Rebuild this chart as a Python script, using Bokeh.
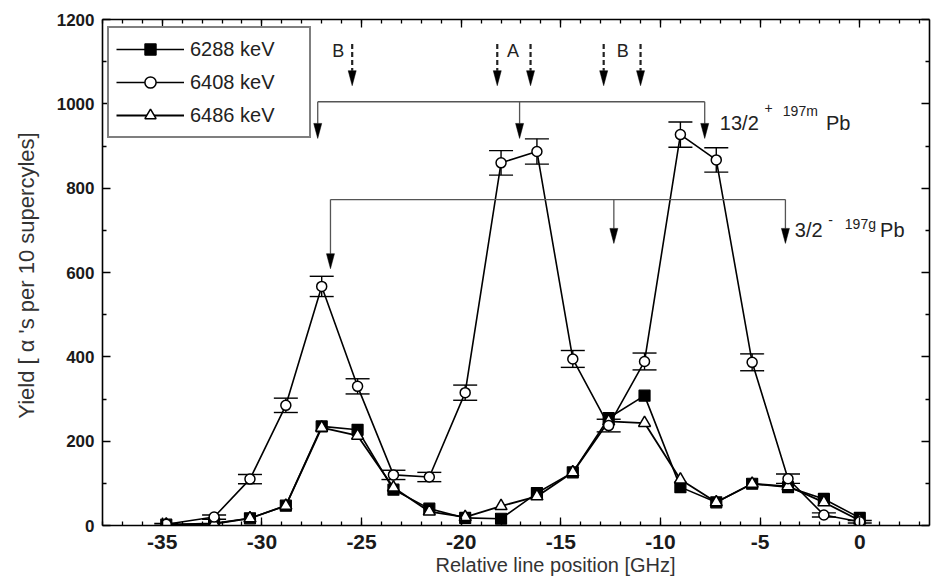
from bokeh.plotting import figure
from bokeh.models import (Range1d, FixedTicker, LinearAxis, Legend, LegendItem,
                          Whisker, TeeHead, ColumnDataSource, Label, Title)
from bokeh.embed import file_html
from bokeh.resources import INLINE

# Scan steps (relative line position, GHz)
position = [-34.8, -32.4, -30.6, -28.8, -27.0, -25.2, -23.4, -21.6, -19.8, -18.0,
            -16.2, -14.4, -12.6, -10.8, -9.0, -7.2, -5.4, -3.6, -1.8, 0.0]

# Alpha yields per 10 supercycles for the three alpha lines
yield_6288 = [2, 5, 17, 47, 235, 227, 85, 40, 18, 16,
              77, 126, 255, 308, 91, 55, 99, 91, 63, 18]
yield_6408 = [3, 20, 110, 285, 567, 330, 120, 115, 315, 860,
              887, 395, 237, 389, 927, 867, 387, 111, 25, 9]
err_6408 = [2, 5, 11, 17, 24, 18, 11, 11, 18, 29,
            30, 20, 15, 20, 30, 29, 20, 11, 5, 3]
yield_6486 = [2, 4, 17, 47, 232, 213, 90, 33, 20, 46,
              69, 126, 247, 243, 109, 55, 99, 93, 55, 12]

series_labels = ["6288 keV", "6408 keV", "6486 keV"]

# Hyperfine component markers: 13/2+ 197mPb and 3/2- 197gPb
comp_m_x = [-27.20, -17.07, -7.78]
comp_m_bar = 1005
comp_m_tip = [918, 918, 918]
comp_g_x = [-26.56, -12.34, -3.73]
comp_g_bar = 773
comp_g_tip = [609, 669, 669]

# Dashed A / B arrows
ab_x = [-25.47, -18.19, -16.52, -12.85, -11.0]
ab_top = 1142
ab_tip = 1043
ab_text = ["B", "A", "B"]
ab_text_x = [-26.17, -17.40, -11.89]
ab_text_y = 1126

x_ticks = [-35, -30, -25, -20, -15, -10, -5, 0]
y_ticks = [0, 200, 400, 600, 800, 1000, 1200]

X0, X1 = -38.0, 3.5
Y0, Y1 = 0, 1200
FRAME_W, FRAME_H = 827, 506
PX_X = FRAME_W / (X1 - X0)
PX_Y = FRAME_H / (Y1 - Y0)

FONT = "Liberation Sans"
INK = "#1a1a1a"

p = figure(width=933, height=582, x_range=Range1d(X0, X1), y_range=Range1d(Y0, Y1),
           output_backend="svg", toolbar_location=None,
           min_border_left=102, min_border_right=4, min_border_top=19, min_border_bottom=57)
p.xgrid.visible = False
p.ygrid.visible = False
p.outline_line_color = None
p.background_fill_color = "white"
p.border_fill_color = "white"

xt = FixedTicker(ticks=x_ticks, minor_ticks=list(range(-38, 4)))
yt = FixedTicker(ticks=y_ticks, minor_ticks=list(range(100, 1200, 200)))

p.xaxis.ticker = xt
p.yaxis.ticker = yt
p.xaxis.major_label_overrides = {t: str(t) for t in x_ticks}


def style_axis(ax, show_labels, size, standoff):
    ax.axis_line_color = "black"
    ax.axis_line_width = 1.6
    ax.major_tick_line_color = "black"
    ax.minor_tick_line_color = "black"
    ax.major_tick_line_width = 1.3
    ax.minor_tick_line_width = 1.3
    ax.major_tick_in = 8
    ax.major_tick_out = 0
    ax.minor_tick_in = 4
    ax.minor_tick_out = 0
    if show_labels:
        ax.major_label_text_font = FONT
        ax.major_label_text_font_style = "bold"
        ax.major_label_text_font_size = size
        ax.major_label_text_color = INK
        ax.major_label_standoff = standoff
    else:
        ax.major_label_text_font_size = "0px"
        ax.major_label_standoff = 0
        ax.major_label_text_alpha = 0


style_axis(p.xaxis[0], True, "21px", 9)
style_axis(p.yaxis[0], True, "17px", 8)

# y axis title
p.yaxis.axis_label = "Yield  [ \u03b1 's per 10 supercyles]"
p.yaxis.axis_label_text_font = FONT
p.yaxis.axis_label_text_font_size = "22px"
p.yaxis.axis_label_text_font_style = "normal"
p.yaxis.axis_label_text_color = "#333333"
p.yaxis.axis_label_standoff = 15

top_axis = LinearAxis(ticker=xt)
right_axis = LinearAxis(ticker=yt)
style_axis(top_axis, False, None, 0)
style_axis(right_axis, False, None, 0)
p.add_layout(top_axis, "above")
p.add_layout(right_axis, "right")

# x axis title, set a little right of the frame centre
x_title = Title(text="Relative line position [GHz]", align="left", offset=333,
                standoff=0, text_font=FONT, text_font_size="20px",
                text_font_style="normal", text_color="#333333")
p.add_layout(x_title, "below")

# connecting lines
r_l1 = p.line(position, yield_6288, line_color="black", line_width=1.6)
r_l3 = p.line(position, yield_6486, line_color="black", line_width=1.8)
r_l2 = p.line(position, yield_6408, line_color="black", line_width=1.6)

# error bars on the 6408 keV line
err_src = ColumnDataSource(dict(
    x=position,
    lo=[v - e for v, e in zip(yield_6408, err_6408)],
    hi=[v + e for v, e in zip(yield_6408, err_6408)],
))
wk = Whisker(source=err_src, base="x", lower="lo", upper="hi",
             line_color="black", line_width=1.4, level="underlay",
             lower_head=TeeHead(size=24, line_color="black", line_width=1.4),
             upper_head=TeeHead(size=24, line_color="black", line_width=1.4))
p.add_layout(wk)

r_m1 = p.scatter(position, yield_6288, marker="square", size=11,
                 fill_color="black", line_color="black", line_width=1.2)
r_m3 = p.scatter(position, yield_6486, marker="triangle", size=12,
                 fill_color="white", line_color="black", line_width=1.5)
r_m2 = p.scatter(position, yield_6408, marker="circle", size=10,
                 fill_color="white", line_color="black", line_width=1.5)

# arrow heads: narrow filled triangles pointing down
HEAD_LEN = 15 / PX_Y
HEAD_HW = 4 / PX_X


def heads(xs, tips):
    hx = [[x - HEAD_HW, x + HEAD_HW, x] for x in xs]
    hy = [[t + HEAD_LEN, t + HEAD_LEN, t] for t in tips]
    p.patches(hx, hy, fill_color="black", line_color="black", line_width=0.5)


def bracket(xs, bar, tips):
    p.segment(x0=[min(xs)], y0=[bar], x1=[max(xs)], y1=[bar],
              line_color="#555555", line_width=1.3)
    p.segment(x0=xs, y0=[bar] * len(xs), x1=xs, y1=[t + HEAD_LEN for t in tips],
              line_color="#555555", line_width=1.3)
    heads(xs, tips)


bracket(comp_m_x, comp_m_bar, comp_m_tip)
bracket(comp_g_x, comp_g_bar, comp_g_tip)

# dashed A / B arrows
p.segment(x0=ab_x, y0=[ab_top] * len(ab_x), x1=ab_x, y1=[ab_tip + HEAD_LEN] * len(ab_x),
          line_color="#222222", line_width=2.2, line_dash="5 3")
heads(ab_x, [ab_tip] * len(ab_x))

for t, x in zip(ab_text, ab_text_x):
    p.add_layout(Label(x=x, y=ab_text_y, text=t, text_font=FONT, text_font_size="18px",
                       text_color="#222222", text_align="center", text_baseline="middle"))


def state_label(parts):
    for x, y, text, size in parts:
        p.add_layout(Label(x=x, y=y, text=text, text_font=FONT, text_font_size=size,
                           text_color="#222222", text_align="left", text_baseline="middle"))


state_label([
    (-7.02, 954, "13/2", "20px"),
    (-4.78, 990, "+", "14px"),
    (-3.86, 983, "197m", "14px"),
    (-1.70, 954, "Pb", "20px"),
])
state_label([
    (-3.26, 700, "3/2", "20px"),
    (-1.58, 724, "-", "14px"),
    (-0.75, 716, "197g", "14px"),
    (1.02, 700, "Pb", "20px"),
])

legend = Legend(items=[
    LegendItem(label=series_labels[0], renderers=[r_l1, r_m1]),
    LegendItem(label=series_labels[1], renderers=[r_l2, r_m2]),
    LegendItem(label=series_labels[2], renderers=[r_l3, r_m3]),
], location=(5, 387))
legend.label_text_font = FONT
legend.label_text_font_size = "20px"
legend.label_text_color = "#222222"
legend.glyph_width = 68
legend.glyph_height = 28
legend.label_height = 20
legend.label_width = 112
legend.label_standoff = 6
legend.spacing = 5
legend.padding = 7
legend.margin = 0
legend.border_line_color = "black"
legend.border_line_width = 2.5
legend.background_fill_color = "white"
legend.background_fill_alpha = 1
p.add_layout(legend)

open("out.html", "w").write(file_html(p, INLINE))
